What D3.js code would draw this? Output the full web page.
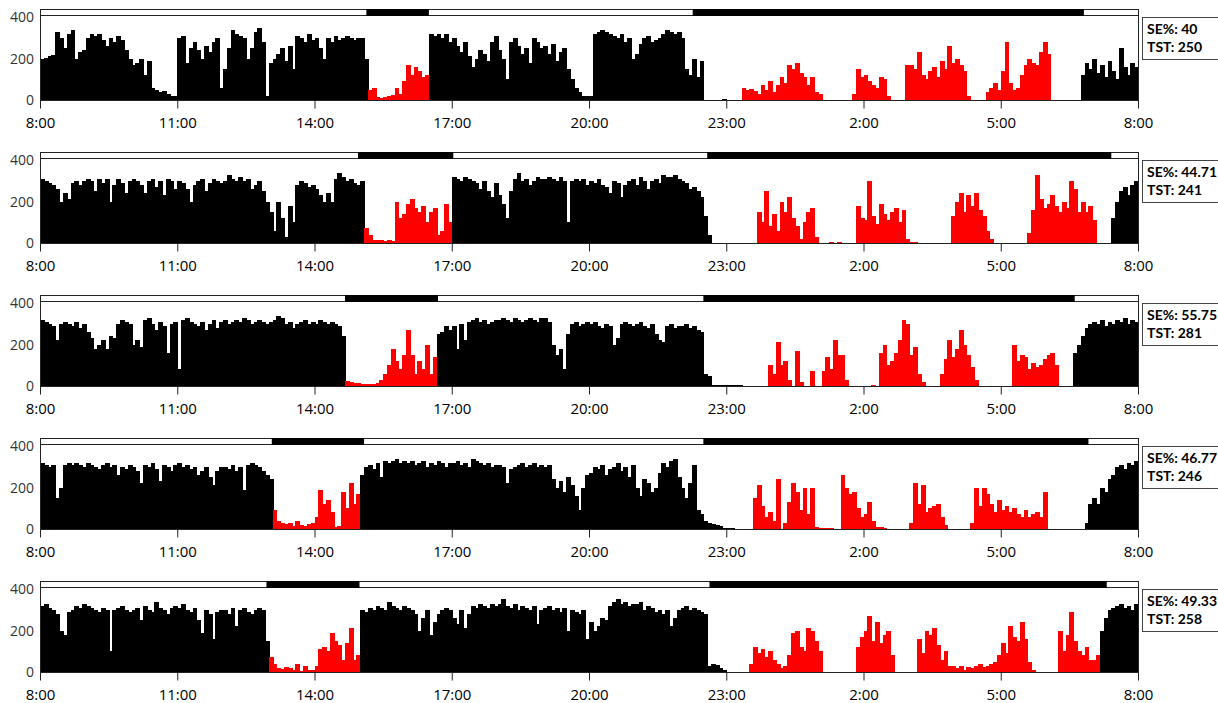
<!DOCTYPE html>
<html>
<head>
<meta charset="utf-8">
<script src="https://cdn.jsdelivr.net/npm/d3@7"></script>
<style>
  body { margin: 0; background: #fff; }
  text { font-family: "Open Sans", "DejaVu Sans", sans-serif; }
</style>
</head>
<body>
<script>
// activity counts, one value per 5 minutes, 8:00 -> 8:00 next day (12 values per hour row)
var day1 = [
  200,205,210,215,330,300,250,320,340,200,230,240,
  300,320,310,320,290,260,300,280,310,290,240,200,
  170,180,200,120,190,60,50,40,45,30,20,20,
  300,310,180,250,280,240,200,260,230,280,300,60,
  150,250,340,320,310,300,200,250,330,345,280,20,
  180,200,220,250,190,260,150,310,300,280,320,290,
  300,250,200,300,280,310,290,300,310,300,290,300,
  300,200,50,60,15,10,15,20,25,60,30,90,
  170,120,160,140,110,120,320,310,320,300,320,280,
  300,260,230,280,210,160,200,240,220,190,280,310,
  240,200,100,280,300,260,220,250,180,300,280,250,
  260,220,270,190,230,250,150,100,60,40,20,20,
  20,320,330,340,330,320,310,300,320,280,300,200,
  220,270,300,310,280,290,300,320,340,330,320,330,
  300,150,120,200,110,190,0,0,0,0,0,5,
  0,0,0,0,60,50,55,45,30,70,50,90,
  40,70,110,80,170,150,180,130,110,70,110,40,
  30,0,0,0,0,0,0,0,0,30,150,110,
  120,90,70,60,110,100,20,0,0,0,0,170,
  170,150,230,120,100,140,160,110,190,150,260,180,
  200,170,140,20,0,0,0,0,40,60,80,50,
  140,280,80,50,60,120,170,200,180,170,230,280,
  220,0,0,0,0,0,0,0,0,120,180,150,
  200,130,170,110,190,140,100,250,160,120,180,160
];
var day2 = [
  310,300,290,280,260,200,240,210,290,300,280,300,
  310,300,250,310,290,310,200,280,310,290,240,300,
  310,300,280,240,300,310,270,300,230,310,300,260,
  300,290,260,200,280,300,310,250,290,310,300,290,
  300,330,310,300,320,300,310,260,280,300,250,200,
  150,60,200,120,30,180,100,280,300,290,270,280,
  260,230,200,240,200,310,340,320,300,310,290,280,
  300,70,40,15,15,15,10,15,10,200,120,140,
  190,210,170,150,180,100,150,170,40,60,190,100,
  320,310,300,320,310,300,290,260,300,250,220,290,
  230,190,120,250,310,340,300,310,280,300,320,310,
  310,320,310,300,320,300,100,300,310,300,310,280,
  300,290,310,280,270,240,300,290,220,280,300,310,
  280,320,300,260,300,310,290,330,320,320,330,310,
  300,290,260,270,250,220,130,40,0,0,0,0,
  0,0,0,0,0,0,0,0,150,100,250,80,
  140,60,200,150,220,120,80,20,100,150,170,30,
  0,0,0,5,0,5,0,0,0,0,180,120,
  110,300,130,90,190,140,110,150,170,100,160,20,
  5,5,0,0,0,0,0,0,0,0,0,130,
  200,240,150,230,180,240,160,130,60,20,0,0,
  0,0,0,0,0,0,0,50,160,330,210,170,
  190,230,180,150,200,170,300,260,150,200,150,180,
  110,0,0,0,0,120,200,250,270,230,280,300
];
var day3 = [
  320,310,300,290,220,300,310,300,290,310,280,300,
  260,230,180,200,220,180,240,230,300,320,310,300,
  200,220,190,320,330,300,270,310,290,160,300,310,
  80,320,330,310,300,290,310,270,300,320,280,310,
  320,300,310,320,310,330,320,300,310,320,310,300,
  310,320,340,330,300,310,280,300,310,320,300,310,
  300,320,310,300,310,300,290,240,25,20,15,15,
  12,10,8,10,15,30,60,100,180,120,80,150,
  270,150,60,120,80,200,60,140,250,260,290,270,
  290,180,300,220,310,320,330,310,320,300,310,320,
  320,330,320,310,330,320,310,320,330,320,310,330,
  330,310,200,150,180,80,250,300,310,290,300,310,
  300,310,290,280,300,290,200,230,300,310,300,290,
  300,310,290,280,300,250,220,210,290,300,280,290,
  290,300,280,290,270,260,60,50,5,5,5,5,
  5,5,5,5,0,0,0,0,0,0,0,100,
  60,210,100,120,30,0,170,20,0,0,70,0,
  0,70,140,80,220,150,150,30,0,0,0,0,
  0,0,5,0,160,200,100,120,160,220,320,300,
  150,190,60,20,0,0,0,0,60,130,220,140,
  180,270,200,150,90,30,0,0,0,0,0,0,
  0,0,0,200,120,150,140,80,110,90,100,130,
  150,160,100,0,0,0,0,160,200,240,280,300,
  310,300,320,290,310,300,320,310,330,300,320,310
];
var day4 = [
  320,310,300,310,150,200,310,320,310,320,310,300,
  320,310,300,290,310,320,300,310,260,300,290,310,
  300,280,220,310,300,320,290,230,310,300,280,310,
  320,300,310,290,300,260,280,300,250,210,280,300,
  300,290,310,280,300,190,310,320,310,300,280,260,
  240,90,40,30,25,30,15,40,20,15,25,30,
  60,190,120,140,80,10,15,180,100,220,120,170,
  260,300,310,290,320,250,330,320,330,340,320,330,
  320,330,310,320,330,300,320,310,330,320,300,320,
  320,330,310,320,300,340,330,320,310,320,300,310,
  310,300,220,290,300,310,320,300,310,320,300,310,
  300,310,240,200,230,180,250,210,160,90,200,260,
  270,300,290,310,260,290,300,320,280,300,250,310,
  200,160,240,220,180,200,270,320,300,330,340,250,
  200,150,220,310,90,70,40,30,25,20,15,5,
  5,5,0,0,0,0,0,150,210,110,60,80,
  40,240,0,30,130,220,180,90,200,70,200,10,
  5,5,5,5,0,0,260,200,170,180,100,60,
  70,130,40,10,10,5,0,0,0,0,0,0,
  30,220,120,210,80,100,110,120,60,20,0,0,
  0,0,0,0,30,200,110,200,170,120,80,140,
  90,110,80,100,70,60,90,60,70,80,60,180,
  0,0,0,0,0,0,0,0,0,0,30,120,
  150,120,200,180,240,260,300,310,290,320,310,330
];
var day5 = [
  320,330,310,300,280,200,180,290,300,320,310,330,
  320,310,300,290,310,300,100,300,310,320,300,290,
  300,310,250,320,300,290,340,310,300,280,310,320,
  310,330,300,290,310,250,190,300,280,160,290,300,
  300,280,310,220,300,310,290,280,300,310,300,150,
  70,40,20,15,25,20,10,40,5,30,10,10,
  30,110,120,100,190,150,130,60,140,210,60,80,
  300,290,310,300,320,310,300,340,320,310,300,320,
  310,300,280,200,260,300,180,240,280,300,310,300,
  260,230,300,210,280,320,310,330,320,310,330,320,
  330,350,320,310,330,300,320,310,300,320,230,300,
  310,320,300,310,290,310,200,300,290,280,300,160,
  240,200,220,260,250,320,340,350,330,340,320,330,
  330,340,300,320,310,290,300,280,300,220,260,300,
  310,320,300,310,300,290,280,30,40,35,20,10,
  0,0,0,0,0,0,40,120,90,110,70,100,
  60,40,20,30,80,190,200,120,100,210,200,150,
  100,0,0,0,0,0,0,0,0,0,120,170,
  200,270,150,240,140,180,200,80,0,0,0,0,
  0,0,160,90,200,180,210,130,60,100,30,30,
  20,30,10,25,20,30,40,25,30,40,50,80,
  140,90,220,170,150,240,160,50,10,0,0,0,
  0,0,0,200,100,180,290,150,100,80,120,60,
  60,80,200,260,300,310,320,330,310,320,300,330
];
var days = [day1, day2, day3, day4, day5];

// rest periods (black in the top bar), minutes after 8:00
var restBars = [
  [[428, 510], [856, 1369]],
  [[417, 542], [875, 1405]],
  [[400, 522], [870, 1357]],
  [[304, 425], [870, 1375]],
  [[297, 419], [878, 1399]]
];
// sleep periods (activity drawn red), minutes after 8:00
var sleepSpans = [
  [[430, 510], [920, 1325]],
  [[425, 540], [940, 1385]],
  [[400, 520], [955, 1335]],
  [[305, 420], [935, 1320]],
  [[300, 420], [930, 1390]]
];

var tickMinutes = [0, 180, 360, 540, 720, 900, 1080, 1260, 1440];
var tickLabels = ["8:00", "11:00", "14:00", "17:00", "20:00", "23:00", "2:00", "5:00", "8:00"];
var yTicks = [0, 200, 400];
var seValues = ["40", "44.71", "55.75", "46.77", "49.33"];
var tstValues = ["250", "241", "281", "246", "258"];

var binMin = 5;
var plotLeft = 40, plotRight = 1138;
var plotH = 85;

var svg = d3.select("body").append("svg")
    .attr("width", 1218)
    .attr("height", 703);

var x = d3.scaleLinear().domain([0, 1440]).range([plotLeft, plotRight]);

function inSpan(m, spans) {
  for (var k = 0; k < spans.length; k++) {
    if (m >= spans[k][0] && m < spans[k][1]) return true;
  }
  return false;
}

days.forEach(function(vals, p) {
  var base = 100 + p * 143;
  var y = d3.scaleLinear().domain([0, 410]).range([base, base - plotH]);
  var g = svg.append("g");

  // activity bars (slight overlap so no seams show between bins)
  g.selectAll("rect.act")
      .data(vals)
    .enter().append("rect")
      .attr("class", "act")
      .attr("shape-rendering", "crispEdges")
      .attr("x", function(d, i) { return x(i * binMin); })
      .attr("width", function(d, i) {
        return (i === vals.length - 1) ? x(binMin) - x(0) : x(binMin) - x(0) + 1;
      })
      .attr("y", function(d) { return y(d); })
      .attr("height", function(d) { return base - y(d); })
      .attr("fill", function(d, i) { return inSpan(i * binMin, sleepSpans[p]) ? "#ff0000" : "#000"; });

  // plot frame
  g.append("rect")
      .attr("x", plotLeft + 0.5)
      .attr("y", base - plotH + 0.5)
      .attr("width", plotRight - plotLeft)
      .attr("height", plotH)
      .attr("fill", "none")
      .attr("stroke", "#222");

  // top light/dark bar
  g.append("rect")
      .attr("x", plotLeft + 0.5)
      .attr("y", base - plotH - 6 + 0.5)
      .attr("width", plotRight - plotLeft)
      .attr("height", 6)
      .attr("fill", "#fff")
      .attr("stroke", "#222");
  g.selectAll("rect.rest")
      .data(restBars[p])
    .enter().append("rect")
      .attr("class", "rest")
      .attr("x", function(d) { return x(d[0]); })
      .attr("width", function(d) { return x(d[1]) - x(d[0]); })
      .attr("y", base - plotH - 6)
      .attr("height", 7)
      .attr("fill", "#000");

  // y axis labels
  var yAx = g.append("g")
      .attr("transform", "translate(" + plotLeft + ",0)")
      .call(d3.axisLeft(y).tickValues(yTicks).tickSize(0).tickPadding(6));
  yAx.select(".domain").remove();
  yAx.selectAll("text")
      .style("font-family", "'Open Sans', sans-serif")
      .style("font-size", "14px")
      .attr("fill", "#333");

  // x axis
  var xAx = g.append("g")
      .attr("transform", "translate(0," + (base + 0.5) + ")")
      .call(d3.axisBottom(x)
        .tickValues(tickMinutes)
        .tickSize(8)
        .tickSizeOuter(0)
        .tickPadding(9)
        .tickFormat(function(d, i) { return tickLabels[i]; }));
  xAx.select(".domain").remove();
  xAx.selectAll("line").attr("stroke", "#222");
  xAx.selectAll("text")
      .style("font-family", "'Open Sans', sans-serif")
      .style("font-size", "15px")
      .attr("fill", "#000");

  // SE / TST box
  g.append("rect")
      .attr("x", 1142.5)
      .attr("y", base - 83 + 0.5)
      .attr("width", 76)
      .attr("height", 42)
      .attr("fill", "#fff")
      .attr("stroke", "#444");
  g.append("text")
      .attr("x", 1147)
      .attr("y", base - 66)
      .style("font-family", "Lato, sans-serif")
      .style("font-weight", "bold")
      .style("font-size", "14px")
      .text("SE%: " + seValues[p]);
  g.append("text")
      .attr("x", 1147)
      .attr("y", base - 48)
      .style("font-family", "Lato, sans-serif")
      .style("font-weight", "bold")
      .style("font-size", "14px")
      .text("TST: " + tstValues[p]);
});
</script>
</body>
</html>
